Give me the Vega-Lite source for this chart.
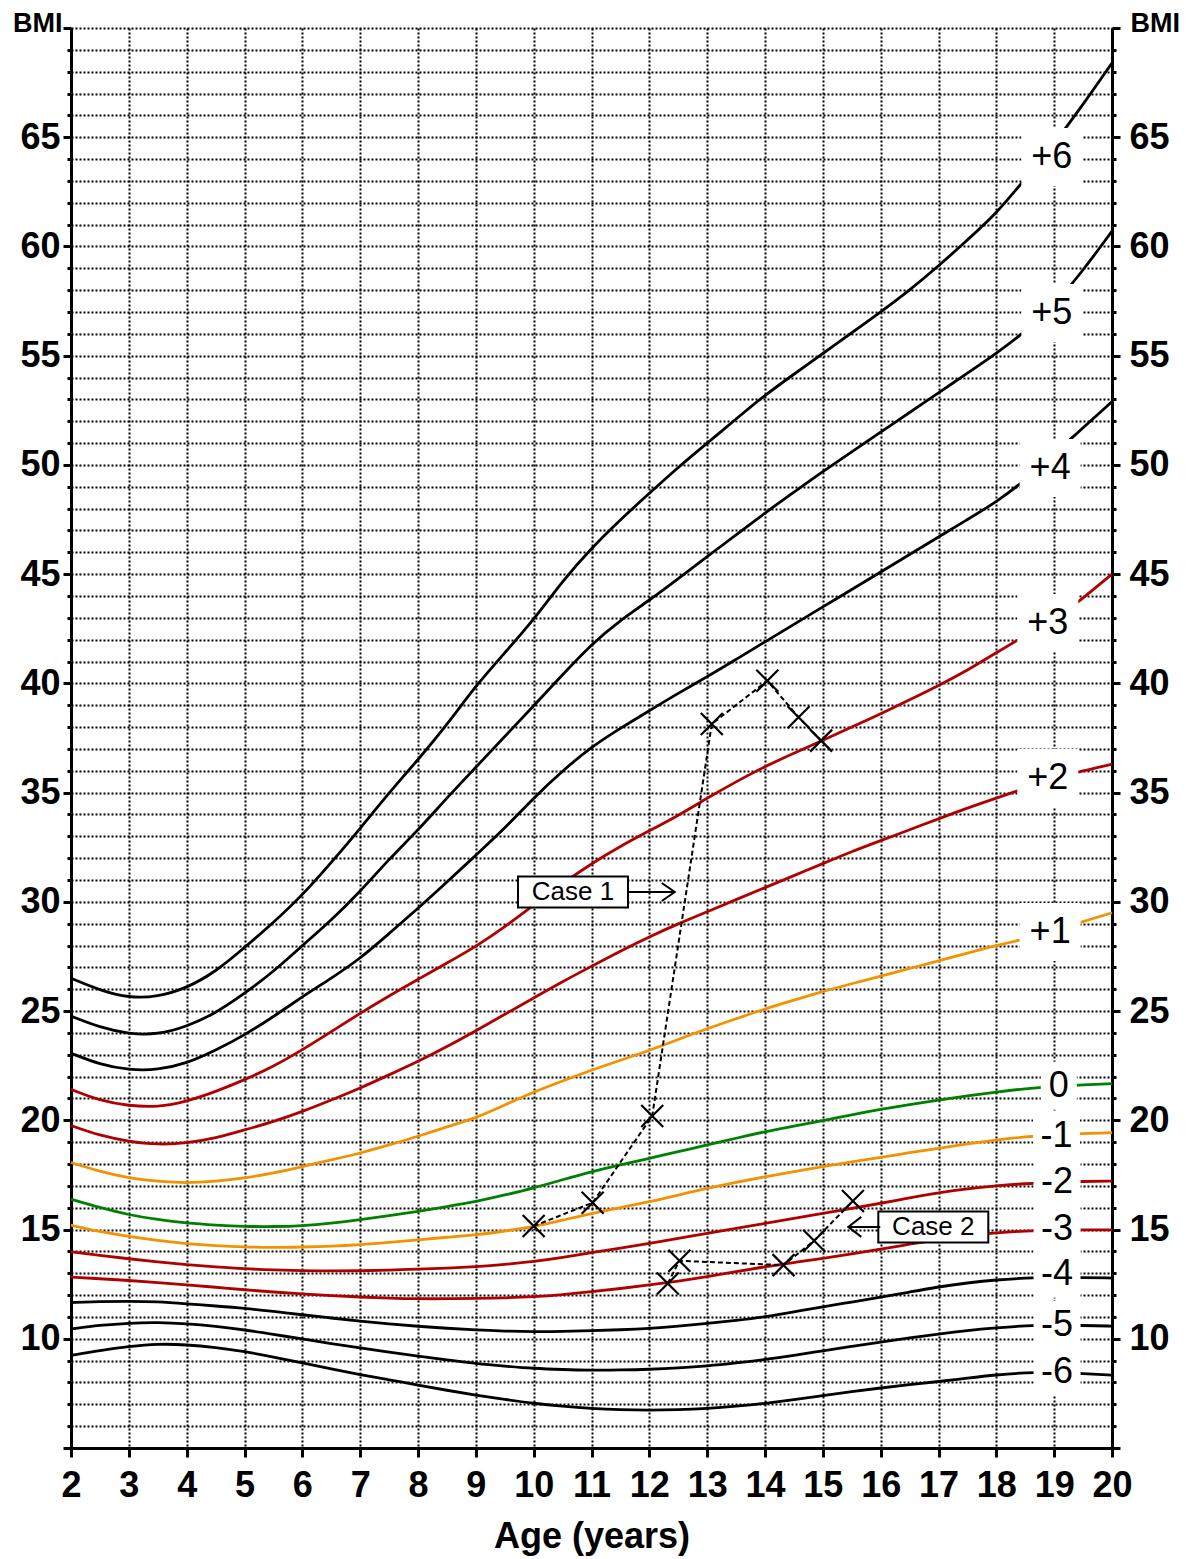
{
  "$schema": "https://vega.github.io/schema/vega-lite/v6.json",
  "width": 1041,
  "height": 1420,
  "autosize": {"type": "none"},
  "padding": {"left": 71, "top": 28, "right": 78, "bottom": 111},
  "background": "white",
  "config": {"view": {"stroke": null}, "font": "Liberation Sans"},
  "resolve": {"axis": {"y": "independent"}, "scale": {"shape": "independent"}},
  "datasets": {
    "curves": [
      {"age": 2, "p6": 26.5, "p5": 24.77, "p4": 23.07, "p3": 21.42, "p2": 19.76, "p1": 18.07, "z0": 16.39, "m1": 15.2, "m2": 13.98, "m3": 12.82, "m4": 11.66, "m5": 10.45, "m6": 9.24},
      {"age": 2.5, "p6": 25.95, "p5": 24.25, "p4": 22.55, "p3": 20.9, "p2": 19.3, "p1": 17.65, "z0": 16.0, "m1": 14.9, "m2": 13.82, "m3": 12.75, "m4": 11.7, "m5": 10.62, "m6": 9.47},
      {"age": 3, "p6": 25.6, "p5": 23.95, "p4": 22.3, "p3": 20.66, "p2": 19.03, "p1": 17.35, "z0": 15.67, "m1": 14.68, "m2": 13.66, "m3": 12.67, "m4": 11.72, "m5": 10.72, "m6": 9.65},
      {"age": 3.5, "p6": 25.65, "p5": 23.92, "p4": 22.3, "p3": 20.6, "p2": 18.88, "p1": 17.2, "z0": 15.45, "m1": 14.5, "m2": 13.52, "m3": 12.57, "m4": 11.7, "m5": 10.75, "m6": 9.77},
      {"age": 4, "p6": 26.05, "p5": 24.29, "p4": 22.6, "p3": 20.86, "p2": 18.95, "p1": 17.12, "z0": 15.29, "m1": 14.35, "m2": 13.39, "m3": 12.47, "m4": 11.6, "m5": 10.69, "m6": 9.73},
      {"age": 4.5, "p6": 26.8, "p5": 24.9, "p4": 23.2, "p3": 21.31, "p2": 19.18, "p1": 17.2, "z0": 15.2, "m1": 14.26, "m2": 13.29, "m3": 12.36, "m4": 11.5, "m5": 10.57, "m6": 9.6},
      {"age": 5, "p6": 27.9, "p5": 25.8, "p4": 23.9, "p3": 21.85, "p2": 19.56, "p1": 17.35, "z0": 15.14, "m1": 14.2, "m2": 13.2, "m3": 12.24, "m4": 11.4, "m5": 10.41, "m6": 9.42},
      {"age": 5.5, "p6": 29.05, "p5": 26.8, "p4": 24.74, "p3": 22.46, "p2": 19.94, "p1": 17.58, "z0": 15.13, "m1": 14.18, "m2": 13.15, "m3": 12.14, "m4": 11.25, "m5": 10.2, "m6": 9.17},
      {"age": 6, "p6": 30.3, "p5": 28.0, "p4": 25.66, "p3": 23.22, "p2": 20.4, "p1": 17.88, "z0": 15.17, "m1": 14.2, "m2": 13.11, "m3": 12.05, "m4": 11.1, "m5": 9.99, "m6": 8.89},
      {"age": 6.5, "p6": 31.8, "p5": 29.16, "p4": 26.5, "p3": 24.06, "p2": 20.93, "p1": 18.19, "z0": 15.29, "m1": 14.23, "m2": 13.1, "m3": 11.97, "m4": 10.95, "m5": 9.78, "m6": 8.62},
      {"age": 7, "p6": 33.35, "p5": 30.47, "p4": 27.4, "p3": 24.9, "p2": 21.47, "p1": 18.49, "z0": 15.45, "m1": 14.3, "m2": 13.11, "m3": 11.91, "m4": 10.8, "m5": 9.58, "m6": 8.36},
      {"age": 7.5, "p6": 35.0, "p5": 31.96, "p4": 28.55, "p3": 25.7, "p2": 22.08, "p1": 18.87, "z0": 15.63, "m1": 14.41, "m2": 13.14, "m3": 11.86, "m4": 10.68, "m5": 9.39, "m6": 8.12},
      {"age": 8, "p6": 36.5, "p5": 33.28, "p4": 29.7, "p3": 26.45, "p2": 22.69, "p1": 19.26, "z0": 15.83, "m1": 14.53, "m2": 13.19, "m3": 11.83, "m4": 10.57, "m5": 9.2, "m6": 7.88},
      {"age": 8.5, "p6": 38.1, "p5": 34.76, "p4": 30.9, "p3": 27.2, "p2": 23.37, "p1": 19.71, "z0": 16.05, "m1": 14.65, "m2": 13.23, "m3": 11.83, "m4": 10.48, "m5": 9.03, "m6": 7.64},
      {"age": 9, "p6": 39.9, "p5": 36.16, "p4": 32.14, "p3": 27.95, "p2": 24.1, "p1": 20.1, "z0": 16.27, "m1": 14.75, "m2": 13.3, "m3": 11.85, "m4": 10.4, "m5": 8.87, "m6": 7.42},
      {"age": 9.5, "p6": 41.4, "p5": 37.57, "p4": 33.36, "p3": 28.85, "p2": 24.85, "p1": 20.7, "z0": 16.58, "m1": 14.93, "m2": 13.4, "m3": 11.87, "m4": 10.35, "m5": 8.75, "m6": 7.22},
      {"age": 10, "p6": 42.9, "p5": 38.97, "p4": 34.76, "p3": 29.85, "p2": 25.6, "p1": 21.3, "z0": 16.9, "m1": 15.13, "m2": 13.53, "m3": 11.92, "m4": 10.32, "m5": 8.64, "m6": 7.04},
      {"age": 10.5, "p6": 44.7, "p5": 40.4, "p4": 36.0, "p3": 30.85, "p2": 26.35, "p1": 21.8, "z0": 17.28, "m1": 15.43, "m2": 13.72, "m3": 12.02, "m4": 10.33, "m5": 8.59, "m6": 6.91},
      {"age": 11, "p6": 46.2, "p5": 41.8, "p4": 37.1, "p3": 31.75, "p2": 27.05, "p1": 22.3, "z0": 17.65, "m1": 15.74, "m2": 13.94, "m3": 12.15, "m4": 10.37, "m5": 8.56, "m6": 6.81},
      {"age": 11.5, "p6": 47.5, "p5": 42.9, "p4": 37.95, "p3": 32.55, "p2": 27.75, "p1": 22.75, "z0": 17.96, "m1": 16.0, "m2": 14.15, "m3": 12.3, "m4": 10.41, "m5": 8.57, "m6": 6.75},
      {"age": 12, "p6": 48.7, "p5": 43.8, "p4": 38.75, "p3": 33.25, "p2": 28.4, "p1": 23.2, "z0": 18.26, "m1": 16.27, "m2": 14.37, "m3": 12.46, "m4": 10.47, "m5": 8.6, "m6": 6.73},
      {"age": 12.5, "p6": 49.9, "p5": 44.8, "p4": 39.55, "p3": 33.95, "p2": 29.0, "p1": 23.7, "z0": 18.57, "m1": 16.58, "m2": 14.6, "m3": 12.64, "m4": 10.57, "m5": 8.66, "m6": 6.75},
      {"age": 13, "p6": 51.0, "p5": 45.8, "p4": 40.3, "p3": 34.75, "p2": 29.55, "p1": 24.2, "z0": 18.87, "m1": 16.89, "m2": 14.82, "m3": 12.84, "m4": 10.7, "m5": 8.75, "m6": 6.81},
      {"age": 13.5, "p6": 52.1, "p5": 46.8, "p4": 41.1, "p3": 35.5, "p2": 30.1, "p1": 24.65, "z0": 19.18, "m1": 17.16, "m2": 15.05, "m3": 13.07, "m4": 10.84, "m5": 8.89, "m6": 6.91},
      {"age": 14, "p6": 53.2, "p5": 47.8, "p4": 41.9, "p3": 36.2, "p2": 30.65, "p1": 25.1, "z0": 19.48, "m1": 17.42, "m2": 15.28, "m3": 13.3, "m4": 11.0, "m5": 9.05, "m6": 7.04},
      {"age": 14.5, "p6": 54.15, "p5": 48.75, "p4": 42.7, "p3": 36.8, "p2": 31.2, "p1": 25.5, "z0": 19.74, "m1": 17.65, "m2": 15.51, "m3": 13.49, "m4": 11.23, "m5": 9.24, "m6": 7.21},
      {"age": 15, "p6": 55.1, "p5": 49.7, "p4": 43.5, "p3": 37.4, "p2": 31.75, "p1": 25.9, "z0": 19.98, "m1": 17.88, "m2": 15.74, "m3": 13.68, "m4": 11.47, "m5": 9.45, "m6": 7.4},
      {"age": 15.5, "p6": 56.05, "p5": 50.6, "p4": 44.3, "p3": 38.0, "p2": 32.3, "p1": 26.25, "z0": 20.25, "m1": 18.1, "m2": 15.97, "m3": 13.89, "m4": 11.68, "m5": 9.65, "m6": 7.58},
      {"age": 16, "p6": 57.0, "p5": 51.5, "p4": 45.1, "p3": 38.6, "p2": 32.8, "p1": 26.6, "z0": 20.5, "m1": 18.3, "m2": 16.2, "m3": 14.1, "m4": 11.9, "m5": 9.85, "m6": 7.75},
      {"age": 16.5, "p6": 58.0, "p5": 52.4, "p4": 45.9, "p3": 39.25, "p2": 33.3, "p1": 26.95, "z0": 20.72, "m1": 18.52, "m2": 16.45, "m3": 14.33, "m4": 12.14, "m5": 10.04, "m6": 7.9},
      {"age": 17, "p6": 59.1, "p5": 53.3, "p4": 46.7, "p3": 39.9, "p2": 33.8, "p1": 27.3, "z0": 20.93, "m1": 18.72, "m2": 16.68, "m3": 14.55, "m4": 12.38, "m5": 10.22, "m6": 8.04},
      {"age": 17.5, "p6": 60.3, "p5": 54.2, "p4": 47.5, "p3": 40.6, "p2": 34.3, "p1": 27.65, "z0": 21.12, "m1": 18.92, "m2": 16.87, "m3": 14.72, "m4": 12.56, "m5": 10.38, "m6": 8.2},
      {"age": 18, "p6": 61.5, "p5": 55.1, "p4": 48.3, "p3": 41.4, "p2": 34.75, "p1": 28.0, "z0": 21.3, "m1": 19.1, "m2": 17.0, "m3": 14.85, "m4": 12.7, "m5": 10.5, "m6": 8.35},
      {"age": 18.5, "p6": 63.1, "p5": 56.1, "p4": 49.3, "p3": 42.2, "p2": 35.2, "p1": 28.3, "z0": 21.45, "m1": 19.25, "m2": 17.1, "m3": 14.94, "m4": 12.78, "m5": 10.6, "m6": 8.45},
      {"age": 19, "p6": 64.7, "p5": 57.3, "p4": 50.5, "p3": 42.9, "p2": 35.65, "p1": 28.65, "z0": 21.55, "m1": 19.33, "m2": 17.17, "m3": 14.98, "m4": 12.82, "m5": 10.63, "m6": 8.47},
      {"age": 19.5, "p6": 66.5, "p5": 58.9, "p4": 51.7, "p3": 43.9, "p2": 36.0, "p1": 29.1, "z0": 21.62, "m1": 19.4, "m2": 17.2, "m3": 14.99, "m4": 12.8, "m5": 10.61, "m6": 8.41},
      {"age": 20, "p6": 68.4, "p5": 60.7, "p4": 52.9, "p3": 45.0, "p2": 36.3, "p1": 29.5, "z0": 21.68, "m1": 19.43, "m2": 17.22, "m3": 14.98, "m4": 12.78, "m5": 10.58, "m6": 8.34}
    ],
    "labels": [
      {"lab": "+6", "age": 18.96, "bmi": 64.1},
      {"lab": "+5", "age": 18.96, "bmi": 56.95},
      {"lab": "+4", "age": 18.93, "bmi": 49.86},
      {"lab": "+3", "age": 18.89, "bmi": 42.76},
      {"lab": "+2", "age": 18.89, "bmi": 35.67},
      {"lab": "+1", "age": 18.93, "bmi": 28.62},
      {"lab": "0", "age": 19.08, "bmi": 21.58},
      {"lab": "-1", "age": 19.04, "bmi": 19.3},
      {"lab": "-2", "age": 19.05, "bmi": 17.18},
      {"lab": "-3", "age": 19.05, "bmi": 15.02},
      {"lab": "-4", "age": 19.05, "bmi": 12.98},
      {"lab": "-5", "age": 19.05, "bmi": 10.63},
      {"lab": "-6", "age": 19.05, "bmi": 8.49}
    ],
    "cases": [
      {"case": "Case 1", "age": 10.0, "bmi": 15.16},
      {"case": "Case 1", "age": 11.02, "bmi": 16.23},
      {"case": "Case 1", "age": 12.05, "bmi": 20.2},
      {"case": "Case 1", "age": 13.08, "bmi": 38.14},
      {"case": "Case 1", "age": 14.04, "bmi": 40.12},
      {"case": "Case 1", "age": 14.58, "bmi": 38.45},
      {"case": "Case 1", "age": 14.97, "bmi": 37.38},
      {"case": "Case 2", "age": 12.32, "bmi": 12.53},
      {"case": "Case 2", "age": 12.52, "bmi": 13.57},
      {"case": "Case 2", "age": 14.32, "bmi": 13.37},
      {"case": "Case 2", "age": 14.85, "bmi": 14.49},
      {"case": "Case 2", "age": 15.52, "bmi": 16.31}
    ],
    "notes": [
      {"note": "Case 1", "age": 10.68, "bmi": 30.45, "tip": 12.44},
      {"note": "Case 2", "age": 16.91, "bmi": 15.12, "tip": 15.44}
    ]
  },
  "layer": [
    {
      "data": {"name": "curves"},
      "transform": [{"fold": ["p6", "p5", "p4", "p3", "p2", "p1", "z0", "m1", "m2", "m3", "m4", "m5", "m6"], "as": ["z", "bmi"]}],
      "mark": {"type": "line", "interpolate": "basis", "strokeWidth": 2.8},
      "encoding": {
        "x": {
          "field": "age", "type": "quantitative",
          "scale": {"domain": [2, 20], "nice": false, "zero": false},
          "axis": {
            "orient": "bottom",
            "values": [2, 2.5, 3, 3.5, 4, 4.5, 5, 5.5, 6, 6.5, 7, 7.5, 8, 8.5, 9, 9.5, 10, 10.5, 11, 11.5, 12, 12.5, 13, 13.5, 14, 14.5, 15, 15.5, 16, 16.5, 17, 17.5, 18, 18.5, 19, 19.5, 20],
            "labelExpr": "datum.value % 1 === 0 ? format(datum.value, 'd') : ''",
            "labelFont": "Liberation Sans", "labelFontSize": 36, "labelFontWeight": "bold", "labelColor": "black",
            "labelPadding": 11, "labelFlush": false, "labelOverlap": false,
            "tickSize": {"condition": {"test": "datum.value % 1 === 0", "value": 9}, "value": 5},
            "tickWidth": 3, "tickColor": "black", "domainWidth": 3, "domainColor": "black",
            "grid": true, "gridColor": "black", "gridDash": [2, 2], "gridWidth": 2,
            "title": "Age (years)", "titleFont": "Liberation Sans", "titleFontSize": 36, "titleFontWeight": "bold", "titleColor": "black", "titlePadding": 16
          }
        },
        "y": {
          "field": "bmi", "type": "quantitative",
          "scale": {"domain": [5, 70], "nice": false, "zero": false},
          "axis": {
            "orient": "left",
            "values": [5, 6, 7, 8, 9, 10, 11, 12, 13, 14, 15, 16, 17, 18, 19, 20, 21, 22, 23, 24, 25, 26, 27, 28, 29, 30, 31, 32, 33, 34, 35, 36, 37, 38, 39, 40, 41, 42, 43, 44, 45, 46, 47, 48, 49, 50, 51, 52, 53, 54, 55, 56, 57, 58, 59, 60, 61, 62, 63, 64, 65, 66, 67, 68, 69, 70],
            "labelExpr": "datum.value % 5 === 0 && datum.value >= 10 && datum.value <= 65 ? datum.label : ''",
            "labelFont": "Liberation Sans", "labelFontSize": 36, "labelFontWeight": "bold", "labelColor": "black",
            "labelPadding": 3, "labelFlush": false, "labelOverlap": false,
            "tickSize": {"condition": {"test": "datum.value % 5 === 0", "value": 8}, "value": 4},
            "tickWidth": 3, "tickColor": "black", "domainWidth": 3, "domainColor": "black",
            "grid": true, "gridColor": "black", "gridDash": [2, 2], "gridWidth": 2,
            "title": "BMI", "titleAngle": 0, "titleAlign": "right", "titleBaseline": "alphabetic", "titleX": -9, "titleY": 3,
            "titleFont": "Liberation Sans", "titleFontSize": 27, "titleFontWeight": "bold", "titleColor": "black"
          }
        },
        "color": {
          "field": "z", "type": "nominal",
          "scale": {
            "domain": ["p6", "p5", "p4", "p3", "p2", "p1", "z0", "m1", "m2", "m3", "m4", "m5", "m6"],
            "range": ["#000000", "#000000", "#000000", "#b00000", "#b00000", "#f39200", "#008000", "#f39200", "#b00000", "#b00000", "#000000", "#000000", "#000000"]
          },
          "legend": null
        }
      }
    },
    {
      "data": {"name": "labels"},
      "mark": {"type": "point", "size": 4, "filled": true, "color": "white", "opacity": 1, "strokeWidth": 0},
      "encoding": {
        "x": {"field": "age", "type": "quantitative"},
        "y": {
          "field": "bmi", "type": "quantitative",
          "axis": {
            "orient": "right",
            "values": [5, 6, 7, 8, 9, 10, 11, 12, 13, 14, 15, 16, 17, 18, 19, 20, 21, 22, 23, 24, 25, 26, 27, 28, 29, 30, 31, 32, 33, 34, 35, 36, 37, 38, 39, 40, 41, 42, 43, 44, 45, 46, 47, 48, 49, 50, 51, 52, 53, 54, 55, 56, 57, 58, 59, 60, 61, 62, 63, 64, 65, 66, 67, 68, 69, 70],
            "labelExpr": "datum.value % 5 === 0 && datum.value >= 10 && datum.value <= 65 ? datum.label : ''",
            "labelFont": "Liberation Sans", "labelFontSize": 36, "labelFontWeight": "bold", "labelColor": "black",
            "labelPadding": 9, "labelFlush": false, "labelOverlap": false,
            "tickSize": {"condition": {"test": "datum.value % 5 === 0", "value": 8}, "value": 4},
            "tickWidth": 3, "tickColor": "black", "domainWidth": 3, "domainColor": "black",
            "grid": false,
            "title": "BMI", "titleAngle": 0, "titleAlign": "left", "titleBaseline": "alphabetic", "titleX": 18, "titleY": 3,
            "titleFont": "Liberation Sans", "titleFontSize": 27, "titleFontWeight": "bold", "titleColor": "black"
          }
        },
        "shape": {
          "field": "lab", "type": "nominal",
          "scale": {
            "domain": ["+6", "+5", "+4", "+3", "+2", "+1", "0", "-1", "-2", "-3", "-4", "-5", "-6"],
            "range": [
              "M-30.5,-29L30.5,-29L30.5,29L-30.5,29Z", "M-30.5,-29L30.5,-29L30.5,29L-30.5,29Z", "M-30.5,-29L30.5,-29L30.5,29L-30.5,29Z",
              "M-30.5,-29L30.5,-29L30.5,29L-30.5,29Z", "M-30.5,-29L30.5,-29L30.5,29L-30.5,29Z", "M-30.5,-29L30.5,-29L30.5,29L-30.5,29Z",
              "M-18,-24L18,-24L18,24L-18,24Z",
              "M-23.5,-24L23.5,-24L23.5,24L-23.5,24Z", "M-23.5,-24L23.5,-24L23.5,24L-23.5,24Z", "M-23.5,-24L23.5,-24L23.5,24L-23.5,24Z",
              "M-23.5,-24L23.5,-24L23.5,24L-23.5,24Z", "M-23.5,-24L23.5,-24L23.5,24L-23.5,24Z", "M-23.5,-24L23.5,-24L23.5,24L-23.5,24Z"
            ]
          },
          "legend": null
        }
      }
    },
    {
      "data": {"name": "labels"},
      "mark": {"type": "text", "font": "Liberation Sans", "fontSize": 36, "align": "center", "baseline": "middle", "color": "black"},
      "encoding": {
        "x": {"field": "age", "type": "quantitative"},
        "y": {"field": "bmi", "type": "quantitative", "axis": null},
        "text": {"field": "lab", "type": "nominal"}
      }
    },
    {
      "data": {"name": "cases"},
      "mark": {"type": "line", "color": "black", "strokeWidth": 2, "strokeDash": [5, 3]},
      "encoding": {
        "x": {"field": "age", "type": "quantitative"},
        "y": {"field": "bmi", "type": "quantitative", "axis": null},
        "detail": {"field": "case", "type": "nominal"}
      }
    },
    {
      "data": {"name": "cases"},
      "mark": {"type": "point", "shape": "M-11,-11L11,11M-11,11L11,-11", "size": 4, "filled": false, "stroke": "black", "strokeWidth": 2.2, "opacity": 1},
      "encoding": {
        "x": {"field": "age", "type": "quantitative"},
        "y": {"field": "bmi", "type": "quantitative", "axis": null}
      }
    },
    {
      "data": {"name": "notes"},
      "mark": {"type": "point", "shape": "M-55,-15.5L55,-15.5L55,15.5L-55,15.5Z", "size": 4, "fill": "white", "stroke": "black", "strokeWidth": 2, "opacity": 1},
      "encoding": {
        "x": {"field": "age", "type": "quantitative"},
        "y": {"field": "bmi", "type": "quantitative", "axis": null}
      }
    },
    {
      "data": {"name": "notes"},
      "mark": {"type": "text", "font": "Liberation Sans", "fontSize": 26, "align": "center", "baseline": "middle", "color": "black"},
      "encoding": {
        "x": {"field": "age", "type": "quantitative"},
        "y": {"field": "bmi", "type": "quantitative", "axis": null},
        "text": {"field": "note", "type": "nominal"}
      }
    },
    {
      "data": {"name": "notes"},
      "mark": {"type": "point", "size": 4, "filled": false, "stroke": "black", "strokeWidth": 2, "opacity": 1},
      "encoding": {
        "x": {"field": "tip", "type": "quantitative"},
        "y": {"field": "bmi", "type": "quantitative", "axis": null},
        "shape": {
          "field": "note", "type": "nominal",
          "scale": {"domain": ["Case 1", "Case 2"], "range": ["M-47,0L0,0M-13,-9L0,0L-13,9", "M32,0L0,0M13,-10L0,0L13,10"]},
          "legend": null
        }
      }
    }
  ]
}
